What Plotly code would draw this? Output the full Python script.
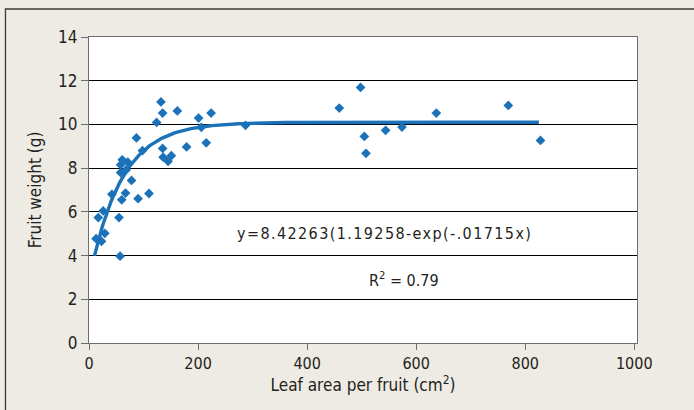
import numpy as np
import plotly.graph_objects as go

# ---- data ----
leaf_area = [13, 23, 29, 17, 26, 55, 57, 42, 60, 67, 90, 110, 78, 58, 68, 58, 61, 71,
             87, 98, 124, 132, 135, 135, 136, 145, 151, 162, 179, 201, 206, 215, 224,
             287, 459, 498, 505, 508, 544, 574, 637, 769, 828]
fruit_weight = [4.77, 4.65, 5.02, 5.74, 6.04, 5.74, 3.97, 6.80, 6.55, 6.86, 6.60, 6.84,
                7.44, 7.80, 7.92, 8.15, 8.38, 8.28, 9.38, 8.80, 10.09, 11.03, 10.52,
                8.90, 8.50, 8.31, 8.57, 10.62, 8.97, 10.29, 9.87, 9.16, 10.52, 9.96,
                10.75, 11.69, 9.45, 8.68, 9.73, 9.88, 10.52, 10.87, 9.27]

x_ticks = [0, 200, 400, 600, 800, 1000]
y_ticks = [0, 2, 4, 6, 8, 10, 12, 14]

# fitted trend curve (as drawn): y = A - B*exp(-c*x)
trend_A = 10.1
trend_B = 7.26
trend_c = 0.01715
trend_x_start = 10
trend_x_end = 825

equation_text = "y=8.42263(1.19258-exp(-.01715x)"
r2_text = "R<sup>2</sup> = 0.79"
x_title = "Leaf area per fruit (cm<sup>2</sup>)"
y_title = "Fruit weight (g)"

# ---- styles ----
FONT = "DejaVu Sans Condensed, Liberation Sans Narrow, sans-serif"
BLUE = "#1B72B9"
TEXT = "#231F20"
AXIS = "#6E6E6E"

tx = np.linspace(trend_x_start, trend_x_end, 300)
ty = trend_A - trend_B * np.exp(-trend_c * tx)

fig = go.Figure()
fig.add_trace(go.Scatter(
    x=leaf_area, y=fruit_weight, mode="markers",
    marker=dict(symbol="diamond", size=7.5, color=BLUE, line=dict(width=0)),
    hoverinfo="x+y"))
fig.add_trace(go.Scatter(
    x=tx, y=ty, mode="lines",
    line=dict(color=BLUE, width=3.4), hoverinfo="skip"))

fig.add_annotation(
    x=542, y=5.0, xref="x", yref="y", showarrow=False,
    text='<span style="letter-spacing:1.4px">' + equation_text + "</span>",
    font=dict(family=FONT, size=16, color=TEXT))
fig.add_annotation(
    x=577, y=2.9, xref="x", yref="y", showarrow=False,
    text=r2_text,
    font=dict(family=FONT, size=16, color=TEXT))

# outer frame
fig.add_shape(type="rect", xref="paper", yref="paper",
              x0=-0.1524, x1=1.25, y0=-0.35, y1=1.0915,
              line=dict(color="#3A3A3A", width=1.3), fillcolor="rgba(0,0,0,0)",
              layer="below")

fig.update_layout(
    width=694, height=410,
    margin=dict(l=89, r=57, t=37, b=67),
    paper_bgcolor="#EEEBE4", plot_bgcolor="white",
    showlegend=False,
    font=dict(family=FONT, color=TEXT),
    xaxis=dict(
        range=[0, 1005], tickvals=x_ticks, ticktext=[str(v) for v in x_ticks],
        ticks="outside", ticklen=6, tickcolor=AXIS, tickwidth=1.2,
        showgrid=False, zeroline=False,
        showline=True, linecolor=AXIS, linewidth=1.3, mirror=True,
        tickfont=dict(family=FONT, size=16, color=TEXT),
        title=dict(text=x_title, font=dict(family=FONT, size=17, color=TEXT), standoff=5),
    ),
    yaxis=dict(
        range=[0, 14], tickvals=y_ticks, ticktext=[str(v) for v in y_ticks],
        ticks="outside", ticklen=7, tickcolor=AXIS, tickwidth=1.2,
        showgrid=True, gridcolor="black", gridwidth=1.2, zeroline=False,
        showline=True, linecolor=AXIS, linewidth=1.3, mirror=True,
        tickfont=dict(family=FONT, size=17, color=TEXT),
        title=dict(text=y_title, font=dict(family=FONT, size=17, color=TEXT), standoff=12),
    ),
)

fig.write_html("out.html", config={"displayModeBar": False},
               post_script="document.body.style.margin='0px';")
